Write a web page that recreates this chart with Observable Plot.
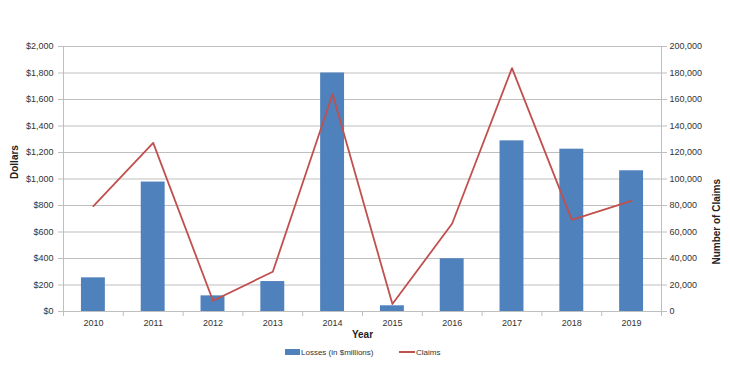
<!DOCTYPE html>
<html>
<head>
<meta charset="utf-8">
<script src="https://cdn.jsdelivr.net/npm/d3@7"></script>
<script src="https://cdn.jsdelivr.net/npm/@observablehq/plot@0.6"></script>
<style>
  html, body { margin: 0; padding: 0; background: #fff; }
  #wrap { position: relative; width: 730px; height: 371px; font-family: "Liberation Sans", Arial, sans-serif; }
  #legend { position: absolute; left: 0; top: 345px; width: 730px; height: 14px; font-size: 8px; color: #333; }
  .li { position: absolute; top: 0; display: flex; align-items: center; height: 14px; }
  .sw-bar { width: 15px; height: 6px; background: #4f81bd; margin-right: 1px; }
  .sw-line { width: 16px; height: 2px; background: #c0504d; margin-right: 1px; }
</style>
</head>
<body>
<div id="wrap">
  <div id="chart"></div>
  <div id="legend">
    <div class="li" style="left:285px"><div class="sw-bar"></div><span>Losses (in $millions)</span></div>
    <div class="li" style="left:399px"><div class="sw-line"></div><span>Claims</span></div>
  </div>
</div>
<script>
const years = ["2010","2011","2012","2013","2014","2015","2016","2017","2018","2019"];
const losses = [254, 977, 118, 226, 1800, 43, 398, 1288, 1225, 1062];
const claims = [79500, 127300, 8100, 30000, 164100, 5600, 66400, 183700, 69200, 83500];
const dollarTicks = [0, 200, 400, 600, 800, 1000, 1200, 1400, 1600, 1800, 2000];
const claimTicks = [0, 20000, 40000, 60000, 80000, 100000, 120000, 140000, 160000, 180000, 200000];

const data = years.map((y, i) => ({year: y, loss: losses[i], claim: claims[i]}));
const claimMax = 200000, dollarMax = 2000;
const toY = c => c * dollarMax / claimMax;

const W = 730, H = 340, mL = 63, mR = 69, mT = 46, mB = 29;
const step = (W - mL - mR) / years.length;
const plotH = H - mT - mB;
const gridColor = "#bfbfbf";
const textColor = "#333";

const chart = Plot.plot({
  width: W,
  height: H,
  marginLeft: mL,
  marginRight: mR,
  marginTop: mT,
  marginBottom: mB,
  style: {fontFamily: "'Liberation Sans', Arial, sans-serif", fontSize: "9px", color: textColor, background: "#fff"},
  x: {type: "band", domain: years, paddingInner: 0.6, paddingOuter: 0.3, round: false, label: null},
  y: {domain: [0, dollarMax], label: null},
  marks: [
    Plot.gridY(dollarTicks, {stroke: gridColor, strokeOpacity: 1}),
    Plot.frame({stroke: gridColor}),
    Plot.barY(data, {x: "year", y: "loss", fill: "#4f81bd"}),
    Plot.line(data, {x: "year", y: d => toY(d.claim), stroke: "#c0504d", strokeWidth: 1.8}),
    Plot.ruleX(years, {x: d => d, dx: -step / 2, stroke: gridColor, insetTop: plotH, insetBottom: -5}),
    Plot.ruleX(years.slice(-1), {x: d => d, dx: step / 2, stroke: gridColor, insetTop: plotH, insetBottom: -5}),
    Plot.axisY(dollarTicks, {anchor: "left", tickSize: 5, tickPadding: 5, stroke: gridColor, tickFormat: d => "$" + d3.format(",")(d), label: null, fill: textColor}),
    Plot.axisY(claimTicks.map(toY), {anchor: "right", tickSize: 5, tickPadding: 3, stroke: gridColor, tickFormat: d => d3.format(",")(Math.round(d * claimMax / dollarMax)), label: null, fill: textColor}),
    Plot.axisX({anchor: "bottom", tickSize: 0, tickPadding: 8, label: null, fill: textColor}),
    Plot.text(["Dollars"], {text: d => d, frameAnchor: "left", dx: -49, rotate: -90, fontWeight: "bold", fontSize: 10, fill: "#222"}),
    Plot.text(["Number of Claims"], {text: d => d, frameAnchor: "right", dx: 55, rotate: -90, fontWeight: "bold", fontSize: 10, fill: "#222"}),
    Plot.text(["Year"], {text: d => d, frameAnchor: "bottom", dy: 26, fontWeight: "bold", fontSize: 10, fill: "#222"})
  ]
});
document.getElementById("chart").appendChild(chart);
</script>
</body>
</html>
